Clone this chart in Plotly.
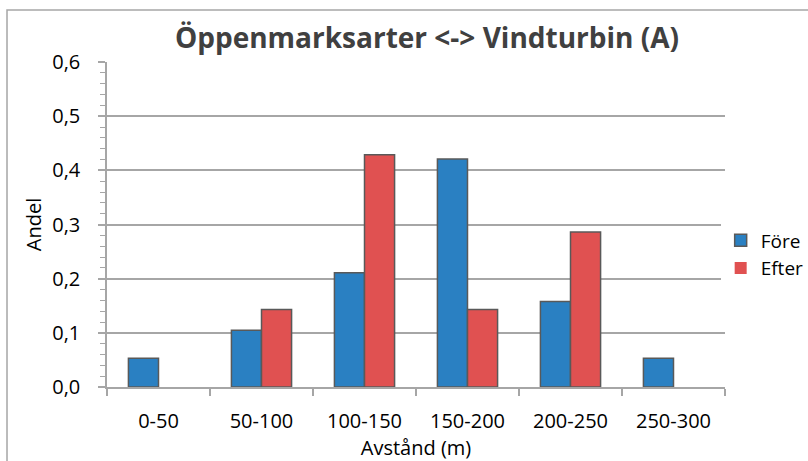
import plotly.graph_objects as go

categories = ['0-50', '50-100', '100-150', '150-200', '200-250', '250-300']
fore = [0.053, 0.105, 0.211, 0.421, 0.158, 0.053]
efter = [0, 0.143, 0.429, 0.143, 0.286, 0]
y_ticks = [0, 0.1, 0.2, 0.3, 0.4, 0.5, 0.6]

font = 'Open Sans'
grey = '#a6a6a6'
edge = '#595959'

fig = go.Figure()
fig.add_trace(go.Bar(x=categories, y=fore, name='Före',
                     marker=dict(color='#2a80c2',
                                 line=dict(color=edge, width=[1.5 if v else 0 for v in fore]))))
fig.add_trace(go.Bar(x=categories, y=efter, name='Efter',
                     marker=dict(color='#e05151',
                                 line=dict(color=edge, width=[1.5 if v else 0 for v in efter]))))

# figure is wider than the window (the chart is cropped on the right in the original);
# the page margin/scrollbars are removed in post_script below
W, H = 850, 461
fig.update_layout(
    width=W, height=H,
    margin=dict(l=107, r=W - 725, t=62, b=H - 387),
    paper_bgcolor='white', plot_bgcolor='white',
    font=dict(family=font, size=20, color='black'),
    separators=', ',
    barmode='group', bargap=0.416, bargroupgap=0,
    title=dict(text='<b>Öppenmarksarter <-> Vindturbin (A)</b>',
               font=dict(family=font, size=28, color='#404040'),
               x=427 / W, xanchor='center', xref='container',
               y=1 - 38 / H, yanchor='middle'),
    legend=dict(x=0.993, y=0.408, xanchor='left', yanchor='middle',
                font=dict(size=19), tracegroupgap=0),
    showlegend=True,
    xaxis=dict(
        title=dict(text='Avstånd (m)', font=dict(size=20), standoff=4),
        showline=True, linecolor=grey, linewidth=1.5,
        ticks='outside', tickson='boundaries', ticklen=7, tickcolor=grey, tickwidth=1.5,
        ticklabelstandoff=15,
        showgrid=False, automargin=False,
    ),
    yaxis=dict(
        title=dict(text='Andel', font=dict(size=20), standoff=5),
        range=[0, 0.6], tickvals=y_ticks, tickformat='.1f',
        showline=True, linecolor=grey, linewidth=1.5,
        showgrid=True, gridcolor=grey, gridwidth=1.5,
        ticks='outside', ticklen=7, tickcolor=grey, tickwidth=1.5,
        ticklabelstandoff=14,
        minor=dict(dtick=0.02, ticks='outside', ticklen=5, tickcolor=grey, tickwidth=1, showgrid=False),
        zeroline=False, automargin=False,
    ),
    shapes=[dict(type='rect', xref='paper', yref='paper',
                 x0=-0.1618, x1=1.4, y0=-0.3, y1=1.16,
                 line=dict(color=grey, width=1.5), fillcolor='rgba(0,0,0,0)')],
)

fig.write_html('out.html', config={'displayModeBar': False},
               post_script="document.body.style.margin='0';document.body.style.overflow='hidden';")
